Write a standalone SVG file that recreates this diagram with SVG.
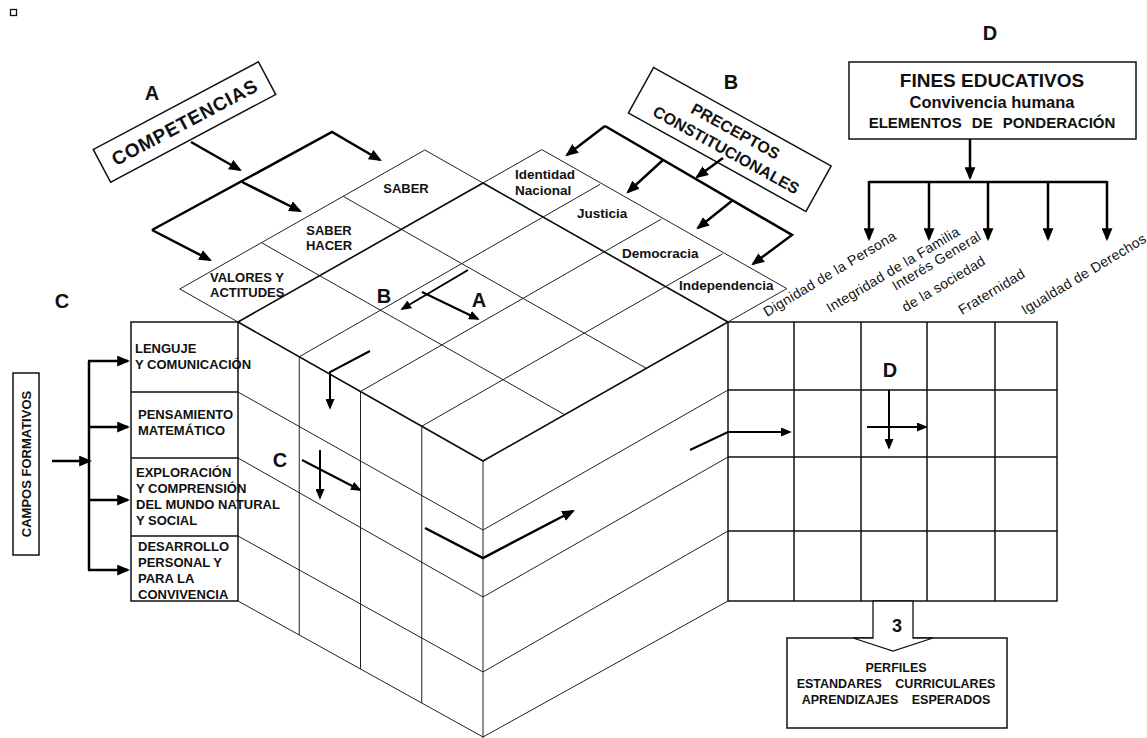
<svg xmlns="http://www.w3.org/2000/svg" width="1147" height="738" viewBox="0 0 1147 738">
<style>
.g{stroke:#222;stroke-width:1;fill:none}
.e{stroke:#111;stroke-width:1.6;fill:none}
.bx{stroke:#111;stroke-width:1.5;fill:#fff}
.gr{stroke:#111;stroke-width:1.5;fill:none}
.a{stroke:#000;stroke-width:2.5;fill:none;marker-end:url(#ah)}
.as{stroke:#000;stroke-width:2;fill:none;marker-end:url(#ah2)}
.ln{stroke:#000;stroke-width:2.5;fill:none}
text{font-family:"Liberation Sans",Arial,sans-serif;fill:#111}
.big{font-size:20px;font-weight:bold;text-anchor:middle}
.lbl{font-size:13px;font-weight:bold}
.cell{font-size:13px;font-weight:bold}
.mc{font-size:13.5px;font-weight:bold}
.col{font-size:14px;letter-spacing:0.3px}
</style>
<defs>
<marker id="ah" viewBox="0 0 12 10" refX="10" refY="5" markerWidth="13" markerHeight="11" markerUnits="userSpaceOnUse" orient="auto"><path d="M0,0L12,5L0,10z" fill="#000"/></marker>
<marker id="ah2" viewBox="0 0 12 10" refX="10" refY="5" markerWidth="11" markerHeight="9" markerUnits="userSpaceOnUse" orient="auto"><path d="M0,0L12,5L0,10z" fill="#000"/></marker>
</defs>
<rect width="1147" height="738" fill="#fff"/>
<rect x="10.5" y="9.5" width="6" height="6" fill="none" stroke="#111" stroke-width="1.3"/>

<g id="cube">
<path class="g" d="M179.8,289 L483,461 M261.5,242.7 L564.7,414.7 M343.1,196.3 L646.3,368.3 M424.8,150 L728,322 M541.8,149.6 L786.8,288.6 M179.8,289 L424.8,150 M238,322 L541.8,149.6 M299.25,356.75 L600.05,184.35 M360.5,391.5 L661.3,219.1 M421.75,426.25 L722.55,253.85 M483,461 L786.8,288.6"/>
<path class="e" d="M238,322 L483,183 L728,322 L483,461 Z"/>
<path class="g" d="M238,392 L483,530 M238,458 L483,597 M238,536 L483,672 M238,601 L483,737"/>
<path class="g" d="M299.25,356.75 V635 M360.5,391.5 V669 M421.75,426.25 V703 M483,461 V738"/>
<path class="g" d="M483,530 L728,390 M483,597 L728,457 M483,672 L728,531 M483,737 L728,601"/>
</g>

<g id="right-grid">
<rect class="gr" x="728" y="322" width="329" height="279"/>
<path class="gr" d="M794,322 V601 M861,322 V601 M927,322 V601 M995,322 V601 M728,390 H1057 M728,457 H1057 M728,531 H1057"/>
</g>

<g id="campos-box">
<rect class="bx" x="131" y="322" width="107" height="279"/>
<path class="gr" d="M131,392 H238 M131,458 H238 M131,536 H238"/>
<text class="lbl" x="135" y="353">LENGUJE</text>
<text class="lbl" x="135" y="369">Y COMUNICACIÓN</text>
<text class="lbl" x="138" y="419">PENSAMIENTO</text>
<text class="lbl" x="138" y="435">MATEMÁTICO</text>
<text class="lbl" x="136" y="477">EXPLORACIÓN</text>
<text class="lbl" x="136" y="493">Y COMPRENSIÓN</text>
<text class="lbl" x="136" y="509">DEL MUNDO NATURAL</text>
<text class="lbl" x="136" y="525">Y SOCIAL</text>
<text class="lbl" x="138" y="551">DESARROLLO</text>
<text class="lbl" x="138" y="567">PERSONAL Y</text>
<text class="lbl" x="138" y="583">PARA LA</text>
<text class="lbl" x="138" y="599">CONVIVENCIA</text>
</g>

<g id="campos-formativos">
<rect class="bx" x="13" y="373" width="26" height="182"/>
<text transform="translate(31,464) rotate(-90)" text-anchor="middle" font-size="13" font-weight="bold">CAMPOS FORMATIVOS</text>
</g>

<g id="competencias">
<rect class="bx" x="-93.5" y="-18.5" width="187" height="37" transform="translate(184.5,122) rotate(-28)"/>
<text transform="translate(184.5,122) rotate(-28)" x="0" y="7" text-anchor="middle" font-size="19" font-weight="bold" letter-spacing="0.8">COMPETENCIAS</text>
</g>

<g id="preceptos">
<rect class="bx" x="-101.5" y="-26" width="203" height="52" transform="translate(729.75,139.5) rotate(29)"/>
<text transform="translate(729.75,139.5) rotate(29)" x="1" y="-4.5" text-anchor="middle" font-size="16" font-weight="bold">PRECEPTOS</text>
<text transform="translate(729.75,139.5) rotate(29)" x="2" y="16.5" text-anchor="middle" font-size="16" font-weight="bold">CONSTITUCIONALES</text>
</g>

<g id="fines">
<rect class="bx" x="849" y="62" width="287" height="77"/>
<text x="992" y="87" text-anchor="middle" font-size="19" font-weight="bold">FINES EDUCATIVOS</text>
<text x="992" y="108" text-anchor="middle" font-size="16.5" font-weight="bold">Convivencia humana</text>
<text x="992" y="128" text-anchor="middle" font-size="15" font-weight="bold" word-spacing="6">ELEMENTOS DE PONDERACIÓN</text>
</g>

<g id="perfiles">
<rect class="bx" x="787" y="638" width="220" height="90"/>
<polygon points="873,601 913,601 913,638 933,638 893,651 853,638 873,638" fill="#fff" stroke="#111" stroke-width="1.3"/>
<text x="897" y="632" text-anchor="middle" font-size="18" font-weight="bold">3</text>
<text x="896" y="672" text-anchor="middle" font-size="12.5" font-weight="bold">PERFILES</text>
<text x="896" y="688" text-anchor="middle" font-size="12.5" font-weight="bold" word-spacing="10">ESTANDARES CURRICULARES</text>
<text x="896" y="704" text-anchor="middle" font-size="12.5" font-weight="bold" word-spacing="10">APRENDIZAJES ESPERADOS</text>
</g>

<g id="top-cells">
<text class="cell" x="210" y="282">VALORES Y</text>
<text class="cell" x="210" y="297">ACTITUDES</text>
<text class="cell" x="329" y="235" text-anchor="middle">SABER</text>
<text class="cell" x="329" y="250" text-anchor="middle">HACER</text>
<text class="cell" x="406" y="193" text-anchor="middle">SABER</text>
<text class="mc" x="515" y="179">Identidad</text>
<text class="mc" x="515" y="195">Nacional</text>
<text class="mc" x="577" y="218">Justicia</text>
<text class="mc" x="622" y="258">Democracia</text>
<text class="mc" x="679" y="290">Independencia</text>
</g>

<g id="column-labels">
<text class="col" x="767" y="317" transform="rotate(-31 767 317)">Dignidad de la Persona</text>
<text class="col" x="830" y="313" transform="rotate(-31 830 313)">Integridad de la Familia</text>
<text class="col" x="939" y="265" text-anchor="middle" transform="rotate(-31 939 265)">Interés General</text>
<text class="col" x="946" y="288" text-anchor="middle" transform="rotate(-31 946 288)">de la sociedad</text>
<text class="col" x="962" y="315" transform="rotate(-31 962 315)">Fraternidad</text>
<text class="col" x="1025" y="315" transform="rotate(-31 1025 315)" font-size="13.5">Igualdad de Derechos</text>
</g>

<g id="letters">
<text class="big" x="152" y="100">A</text>
<text class="big" x="731" y="89">B</text>
<text class="big" x="62" y="308">C</text>
<text class="big" x="990" y="40">D</text>
<text class="big" x="384" y="303" font-size="19">B</text>
<text class="big" x="479" y="307" font-size="19">A</text>
<text class="big" x="280" y="467" font-size="19">C</text>
<text class="big" x="890" y="377" font-size="19">D</text>
</g>

<g id="connectors">
<path class="a" d="M191,142 L240,170"/>
<path class="a" d="M152,230 L332,132 L380,160"/>
<path class="a" d="M152,230 L210,260"/>
<path class="a" d="M242,182 L300,211"/>
<path class="a" d="M723,158 L697,177"/>
<path class="a" d="M605,126 L792,235 L753,264"/>
<path class="a" d="M605,126 L567,155"/>
<path class="a" d="M663,160 L628,192"/>
<path class="a" d="M733,200 L698,228"/>
<path class="a" d="M970,139 L970,178"/>
<path class="ln" d="M869,182 H1107"/>
<path class="a" d="M869,181 V239"/>
<path class="a" d="M929,182 V239"/>
<path class="a" d="M988,182 V239"/>
<path class="a" d="M1048,182 V239"/>
<path class="a" d="M1107,181 V239"/>
<path class="a" d="M52,461 H90"/>
<path class="ln" d="M89,361 V570"/>
<path class="a" d="M88,361 H128"/>
<path class="a" d="M88,427 H128"/>
<path class="a" d="M88,500 H128"/>
<path class="a" d="M88,570 H128"/>
<path class="as" d="M468,270 L402,309"/>
<path class="as" d="M422,292 L478,319"/>
<path class="as" d="M370,351 L330,372 L330,408"/>
<path class="as" d="M320,450 V498"/>
<path class="as" d="M302,460 L360,490"/>
<path class="a" d="M425,528 L483,558 L573,511"/>
<path class="as" d="M690,450 L728,432 H790"/>
<path class="as" d="M889,390 V448"/>
<path class="as" d="M867,427 H926"/>
</g>
</svg>
